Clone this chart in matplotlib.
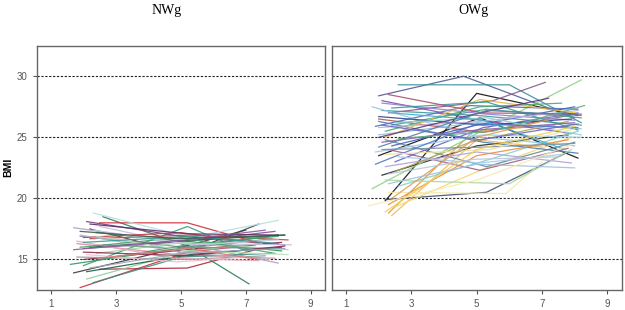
import matplotlib
matplotlib.use("Agg")
import matplotlib.pyplot as plt

# NWg children: age at visit (years) and BMI, one list per child
nw_age = [
    [1.9, 5.2, 7.3], [2.5, 5.2, 7.3], [2.6, 5.2, 7.1], [1.7, 5.0, 7.0],
    [2.5, 5.2, 7.2], [2.0, 5.2, 7.0], [2.2, 5.1, 7.4], [2.3, 5.3, 8.0],
    [1.7, 5.1, 8.0], [2.1, 5.0, 8.2], [1.8, 4.9, 7.9], [2.0, 5.2, 8.1],
    [2.2, 5.3, 8.3], [2.4, 5.1, 8.1], [1.6, 4.9, 8.0], [2.1, 5.2, 7.5],
    [2.3, 5.0, 7.8], [1.9, 5.1, 8.2], [2.0, 5.3, 7.9], [2.5, 5.0, 8.4],
    [1.8, 5.2, 7.6], [2.2, 5.4, 8.2], [2.0, 5.0, 7.2], [2.3, 5.2, 8.0],
    [1.9, 5.0, 7.7], [2.4, 5.1, 8.3], [2.1, 5.3, 8.1], [1.8, 4.8, 7.4],
    [2.2, 5.2, 8.0], [2.6, 5.1, 7.8], [2.0, 5.2, 8.2], [1.9, 5.0, 7.9],
    [2.3, 5.4, 8.0], [2.1, 4.9, 7.0], [2.4, 5.2, 8.3], [1.7, 5.1, 7.6],
    [2.2, 5.0, 8.1], [2.0, 5.3, 8.0], [2.5, 5.2, 7.4], [1.9, 4.9, 8.2],
]
nw_bmi = [
    [12.7, 15.6, 16.2], [14.2, 14.3, 15.8], [18.5, 16.1, 13.0], [13.9, 16.0, 17.4],
    [18.0, 18.0, 16.5], [14.5, 17.7, 15.7], [17.5, 15.5, 17.9], [18.8, 16.8, 18.2],
    [17.6, 16.3, 14.7], [18.1, 16.9, 16.2], [16.3, 15.4, 15.1], [15.0, 15.8, 16.4],
    [16.7, 17.0, 16.6], [17.2, 16.5, 15.7], [14.6, 15.9, 17.0], [13.4, 15.7, 16.3],
    [13.1, 15.2, 15.5], [16.9, 16.0, 15.9], [15.9, 16.5, 17.3], [17.7, 16.3, 16.2],
    [15.2, 15.0, 15.3], [16.0, 16.6, 17.0], [16.8, 17.2, 16.4], [14.9, 16.2, 16.9],
    [17.0, 15.6, 15.0], [15.5, 16.4, 15.8], [14.0, 15.4, 16.0], [16.5, 15.1, 14.9],
    [17.9, 17.1, 17.0], [16.2, 15.9, 16.7], [15.6, 15.3, 16.1], [16.0, 16.8, 15.5],
    [17.4, 16.2, 16.6], [15.4, 14.8, 15.2], [16.9, 15.7, 15.4], [15.8, 16.6, 17.4],
    [14.3, 15.5, 15.9], [16.4, 16.9, 16.3], [15.1, 15.9, 15.0], [17.3, 16.7, 17.0],
]

# OWg children
ow_age = [
    [2.0, 4.6, 8.0], [2.6, 6.0, 8.2], [2.2, 5.0, 8.1], [2.0, 5.1, 8.1],
    [2.1, 5.0, 7.8], [2.2, 5.3, 7.8], [2.3, 4.9, 7.4], [2.4, 5.0, 7.0],
    [2.5, 5.2, 7.9], [1.8, 5.0, 8.2], [2.3, 5.5, 7.1], [2.0, 5.2, 8.0],
    [2.1, 5.0, 8.2], [1.9, 4.8, 8.1], [2.2, 5.3, 8.0], [2.3, 5.1, 7.8],
    [2.0, 5.0, 8.2], [2.5, 5.2, 8.1], [2.1, 4.9, 7.9], [2.4, 5.3, 8.2],
    [1.8, 5.1, 8.0], [2.2, 5.0, 7.9], [2.6, 5.4, 8.1], [2.3, 5.9, 7.0],
    [2.0, 5.2, 8.1], [2.2, 5.1, 7.6], [2.4, 5.0, 8.0], [1.9, 5.2, 8.2],
    [2.1, 5.3, 8.0], [2.5, 4.8, 7.8], [2.2, 5.1, 8.0], [2.3, 5.0, 7.8],
    [2.0, 5.2, 7.9], [2.4, 5.3, 8.1], [2.1, 5.0, 8.0], [2.6, 5.1, 7.6],
    [2.2, 6.0, 7.9], [2.0, 5.1, 8.1], [2.3, 5.2, 8.2], [2.4, 5.0, 7.3],
    [2.1, 5.2, 8.0], [2.5, 5.3, 8.2], [1.9, 5.0, 8.1], [2.2, 5.4, 8.0],
    [2.0, 5.1, 7.2], [2.6, 5.5, 8.3], [2.3, 5.0, 8.0], [2.1, 5.1, 8.1],
    [2.4, 5.2, 7.7], [2.0, 5.3, 8.2], [2.3, 4.9, 7.5], [2.2, 5.0, 8.0],
    [1.7, 5.0, 7.9],
]
ow_bmi = [
    [28.4, 30.0, 26.6], [29.3, 29.3, 26.2], [19.8, 28.6, 26.8], [23.5, 26.6, 23.3],
    [21.9, 24.3, 25.2], [19.9, 20.5, 23.8], [18.8, 25.5, 26.0], [18.6, 24.8, 24.2],
    [19.3, 22.4, 25.0], [20.8, 25.3, 29.7], [27.0, 28.0, 29.5], [26.5, 25.4, 26.9],
    [27.2, 26.8, 26.0], [25.9, 27.6, 27.3], [24.8, 22.6, 24.6], [24.0, 22.3, 24.1],
    [25.2, 26.2, 25.7], [23.0, 25.8, 27.0], [28.0, 26.5, 25.3], [26.0, 27.3, 26.6],
    [27.5, 25.0, 24.3], [22.6, 23.8, 22.9], [21.0, 23.2, 25.5], [20.5, 20.4, 23.0],
    [26.3, 24.6, 23.7], [25.5, 27.5, 27.8], [24.3, 26.0, 27.5], [23.8, 25.2, 25.0],
    [27.8, 26.9, 26.4], [22.2, 24.6, 26.3], [25.0, 28.1, 27.0], [19.5, 23.5, 24.8],
    [26.7, 26.0, 26.5], [27.4, 27.9, 25.6], [24.6, 25.6, 26.2], [23.4, 22.9, 23.6],
    [21.5, 21.2, 24.0], [25.8, 26.3, 27.2], [28.5, 27.0, 26.9], [20.0, 25.0, 26.5],
    [24.0, 24.2, 24.5], [26.2, 26.6, 25.2], [22.8, 26.1, 25.8], [23.6, 24.0, 25.7],
    [25.0, 27.0, 28.2], [24.9, 25.5, 27.6], [21.2, 22.8, 22.5], [26.0, 24.8, 26.1],
    [27.0, 26.4, 24.0], [24.2, 27.2, 26.8], [22.0, 23.2, 23.4], [18.9, 24.0, 25.9],
    [19.4, 21.5, 24.4],
]

yticks = [15, 20, 25, 30]
xticks = [1, 3, 5, 7, 9]

nw_colors = ["#c8303c", "#b02838", "#2e7d5b", "#3a3a3a", "#d0303a", "#3f9a7c",
             "#444444", "#b8e0e0", "#a9a3c2", "#7a3d7e", "#d88aa0", "#8c2a4a",
             "#d04040", "#2f8f5f", "#2e9a60", "#8fcf9c", "#3a8f80", "#9286a8",
             "#874b8f", "#c4bde0", "#9a9a9a", "#1f6648", "#c83a40", "#3c9c68",
             "#aabbc8", "#a6d6ae", "#1e5f44", "#e0a8b8", "#5a2f68", "#7a9a88",
             "#8a3050", "#4aa070", "#cfc8e4", "#efc0c8", "#b8e0bc", "#8e5a9e",
             "#98a8bc", "#3a9a90", "#e07878", "#3d5a4a"]
ow_colors = ["#4a5f9a", "#3a8fa0", "#111111", "#111111", "#222222", "#405070",
             "#e09a30", "#f0b860", "#f2d870", "#8fd08a", "#8a5a8a", "#c05050",
             "#3a9aa0", "#4a70c0", "#6a8a98", "#a06080", "#8fc0e0", "#6a60c8",
             "#8050b0", "#4aa090", "#90c8e8", "#b0a0d8", "#88d0c8", "#f5e8a8",
             "#4a7fb0", "#50a870", "#4060c0", "#9cc8e8", "#9080d0", "#b0a050",
             "#e8b840", "#e89040", "#304a90", "#3a9a9a", "#9060b0", "#a8c8e8",
             "#a8d8a0", "#c0b0e0", "#b05070", "#d8a060", "#7a90a8", "#90d0d0",
             "#5078c8", "#f0e0a0", "#603a80", "#60b080", "#a0c0e0", "#6a6ac0",
             "#40b0c8", "#5a80a0", "#b8c8d8", "#f0d050", "#f5eab0"]

plt.rcParams["font.family"] = ["Liberation Sans", "DejaVu Sans"]

fig = plt.figure(figsize=(6.25, 3.1), dpi=100)
ax1 = fig.add_axes([0.0587, 0.0645, 0.4613, 0.788])
ax2 = fig.add_axes([0.5307, 0.0645, 0.4640, 0.788])

for ax, ages, bmis, cols in [(ax1, nw_age, nw_bmi, nw_colors),
                              (ax2, ow_age, ow_bmi, ow_colors)]:
    for y in yticks:
        ax.axhline(y, color="#222222", lw=0.8, ls=(0, (2, 1.5)), zorder=1)
    for a, b, c in zip(ages, bmis, cols):
        ax.plot(a, b, color=c, lw=0.9, alpha=0.9, zorder=2)
    ax.set_xlim(0.56, 9.44)
    ax.set_ylim(12.5, 32.5)
    ax.set_xticks(xticks)
    ax.set_yticks(yticks)
    ax.tick_params(labelsize=7, colors="#555555", length=3, width=0.8)
    for s in ax.spines.values():
        s.set_color("#666666")
        s.set_linewidth(1.0)

ax2.tick_params(axis="y", left=False, labelleft=False)
ax1.set_ylabel("BMI", fontsize=7.5, fontweight="bold", va="center")
ax1.yaxis.set_label_coords(-0.1, 0.5)

fig.text(0.266, 0.965, "NWg", family=["Liberation Serif", "DejaVu Serif"],
         fontsize=10, ha="center", va="center")
fig.text(0.757, 0.965, "OWg", family=["Liberation Serif", "DejaVu Serif"],
         fontsize=10, ha="center", va="center")

fig.savefig("out.png", dpi=100)
